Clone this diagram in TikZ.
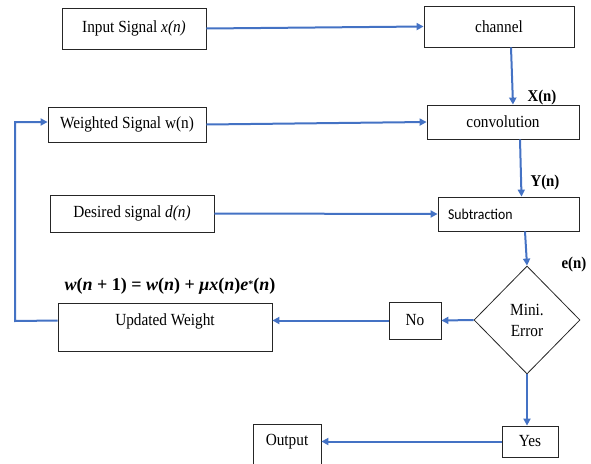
\documentclass[tikz,border=0pt]{standalone}
\usepackage{fontspec}
\setmainfont{Liberation Serif}[FakeStretch=0.9]
\newfontfamily\calibrifont{Carlito}[FakeStretch=0.92]
\newfontfamily\eqfont{Liberation Serif}
\usetikzlibrary{shapes.geometric,arrows.meta}
\definecolor{flowblue}{HTML}{4472C4}
\newcommand{\vi}[1]{\textit{#1}}
\newcommand{\opgap}[1]{\hspace{4.5pt}#1\hspace{4.5pt}}
\begin{document}
\begin{tikzpicture}[x=1pt,y=-1pt,
  every node/.style={font=\fontsize{17}{21}\selectfont},
  box/.style={draw=black!85,line width=0.8pt,inner sep=0pt},
  lbl/.style={font=\fontsize{16.5}{19}\selectfont\bfseries},
  arr/.style={draw=flowblue,line width=2pt,-{Triangle[length=7pt,width=7pt]}}]
\useasboundingbox (0,0) rectangle (591,463);
\clip (0,0) rectangle (591,463);

% processing chain
\node[box,minimum width=144,minimum height=41] (inp) at (134,28.5) {Input Signal \textit{x(n)}};
\node[box,minimum width=150,minimum height=41] (chan) at (499,26.5) {channel};
\node[box,minimum width=158,minimum height=35] (wgt) at (127,124.5) {Weighted Signal w(n)};
\node[box,minimum width=152,minimum height=34] (conv) at (503,122) {convolution};
\node[box,minimum width=164,minimum height=37] (des) at (132,213.5) {Desired signal \textit{d(n)}};
\node[box,minimum height=34,text width=121,inner xsep=10pt,align=left,
      font=\calibrifont\fontsize{15}{18}\selectfont] (sub) at (508.5,214) {Subtraction};
\node[box,diamond,minimum width=106,minimum height=108,align=center,
      font=\fontsize{17}{21}\selectfont] (dia) at (527,320) {Mini.\\Error};
\node[box,minimum width=52,minimum height=37] (no) at (415,320.5) {No};
\node[box,anchor=north,minimum width=214,text height=19pt,text depth=23pt,inner ysep=3pt] (upd) at (165,303) {Updated Weight};
\node[box,minimum width=56,minimum height=31] (yes) at (530,441.5) {Yes};
\node[box,anchor=north,minimum width=68,text height=18pt,text depth=26pt,inner ysep=3pt] (out) at (287,424) {Output};

% signal labels
\node[lbl] (xl) at (542,98) {X(n)};
\node[lbl] (yl) at (545,183) {Y(n)};
\node[lbl] (el) at (574,265) {e(n)};
% weight update rule
\node[font=\eqfont\fontsize{18}{21}\selectfont\bfseries] (eq) at (170,286)
  {\vi{w}(\vi{n}\opgap{+}1)\opgap{=}\vi{w}(\vi{n})\opgap{+}\vi{μx}(\vi{n})\vi{e}\raisebox{3pt}{\fontsize{10}{10}\selectfont *}(\vi{n})};

% connectors
\draw[arr] (inp.east) -- (chan.west);
\draw[arr] ([xshift=12pt]chan.south) -- ([xshift=10pt]conv.north);
\draw[arr] (wgt.east) -- (conv.west);
\draw[arr] ([xshift=17pt]conv.south) -- ([xshift=13pt]sub.north);
\draw[arr] (des.east) -- (sub.west);
\draw[arr] ([xshift=16.5pt]sub.south) -- (dia.north);
\draw[arr] (dia.west) -- (no.east);
\draw[arr] (no.west) -- (no.west -| upd.east);
\draw[arr] (dia.south) -- (dia.south |- yes.north);
\draw[arr] (yes.west) -- (yes.west -| out.east);
\coordinate (fb) at (15,321);
\draw[arr] (no.west -| upd.west) -- (fb) |- ([yshift=2.5pt]wgt.west);
\end{tikzpicture}
\end{document}
